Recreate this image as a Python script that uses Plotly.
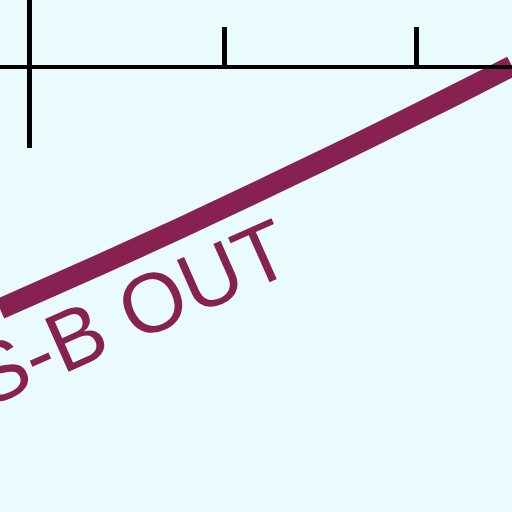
import plotly.graph_objects as go

# curve (pixel-like units, y grows downward)
curve_x = [0, 100, 180, 250, 320, 380, 450, 512]
curve_y = [309, 264.6, 228.2, 195.2, 161.7, 132.4, 97.5, 66]

tick_vals = [224, 416]
label_text = "S-B OUT"

bg = "#e9fbfd"
maroon = "#862152"

fig = go.Figure()

fig.add_trace(go.Scatter(
    x=curve_x, y=curve_y, mode="lines",
    line=dict(color=maroon, width=21, shape="spline", smoothing=0.8),
    showlegend=False, hoverinfo="skip"))

# dummy trace so the short vertical axis gets drawn
fig.add_trace(go.Scatter(x=[], y=[], yaxis="y2", showlegend=False))

fig.add_annotation(
    x=129, y=313, xref="x", yref="y",
    text=label_text, showarrow=False, textangle=-24,
    xanchor="center", yanchor="middle",
    font=dict(family="Liberation Sans", size=84, color=maroon))

fig.update_layout(
    width=512, height=512,
    margin=dict(l=0, r=0, t=0, b=0),
    paper_bgcolor=bg, plot_bgcolor="rgba(0,0,0,0)",
    xaxis=dict(range=[0, 512], side="top", anchor="free", position=1 - 67 / 512,
               showline=True, linecolor="black", linewidth=4,
               ticks="outside", tickvals=tick_vals, ticklen=38, tickwidth=5,
               tickcolor="black", showticklabels=False, showgrid=False, zeroline=False),
    yaxis=dict(range=[512, 0], visible=False, domain=[0, 1]),
    yaxis2=dict(range=[148, 0], domain=[1 - 148 / 512, 1], anchor="free",
                position=29 / 512, showline=True, linecolor="black", linewidth=5,
                showticklabels=False, ticks="", showgrid=False, zeroline=False),
    showlegend=False,
)

fig.write_html("out.html", config={"displayModeBar": False},
               post_script="document.body.style.margin='0';")
